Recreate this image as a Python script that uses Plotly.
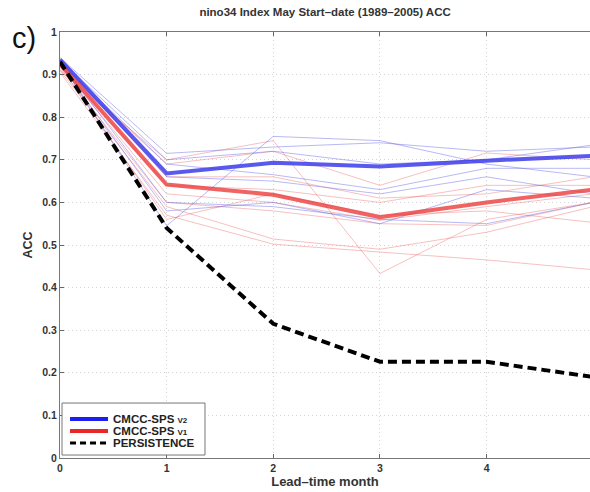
import plotly.graph_objects as go

lead = [0, 1, 2, 3, 4, 5]

v2_mean = [0.935, 0.668, 0.693, 0.684, 0.698, 0.709]
v1_mean = [0.925, 0.642, 0.618, 0.565, 0.600, 0.630]
persistence = [0.93, 0.54, 0.315, 0.226, 0.226, 0.19]

v2_members = [
    [0.94, 0.715, 0.730, 0.740, 0.720, 0.730],
    [0.935, 0.700, 0.720, 0.690, 0.700, 0.735],
    [0.93, 0.690, 0.665, 0.630, 0.680, 0.680],
    [0.93, 0.545, 0.755, 0.745, 0.690, 0.660],
    [0.925, 0.580, 0.600, 0.550, 0.630, 0.610],
    [0.93, 0.600, 0.590, 0.560, 0.550, 0.600],
    [0.935, 0.660, 0.650, 0.620, 0.660, 0.620],
]
v1_members = [
    [0.91, 0.700, 0.745, 0.433, 0.560, 0.600],
    [0.92, 0.690, 0.720, 0.640, 0.716, 0.700],
    [0.93, 0.660, 0.660, 0.610, 0.620, 0.660],
    [0.92, 0.620, 0.600, 0.558, 0.590, 0.620],
    [0.915, 0.600, 0.580, 0.550, 0.546, 0.600],
    [0.91, 0.590, 0.514, 0.490, 0.530, 0.590],
    [0.905, 0.570, 0.502, 0.484, 0.465, 0.442],
    [0.92, 0.560, 0.620, 0.570, 0.580, 0.553],
    [0.925, 0.640, 0.630, 0.600, 0.640, 0.640],
]

x_ticks = [0, 1, 2, 3, 4, 5]
y_ticks = [0, 0.1, 0.2, 0.3, 0.4, 0.5, 0.6, 0.7, 0.8, 0.9, 1]
y_tick_text = ["0", "0.1", "0.2", "0.3", "0.4", "0.5", "0.6", "0.7", "0.8", "0.9", "1"]

legend_labels = ["CMCC-SPS <span style='font-size:8px'>V2</span>",
                 "CMCC-SPS <span style='font-size:8px'>V1</span>",
                 "PERSISTENCE"]

FONT = "Liberation Sans, Arial, sans-serif"
BLUE_THICK = "rgba(60,60,235,0.85)"
RED_THICK = "rgba(235,60,60,0.80)"

fig = go.Figure()

for m in v1_members:
    fig.add_trace(go.Scatter(x=lead, y=m, mode="lines", showlegend=False, hoverinfo="skip",
                             line=dict(color="rgba(235,90,90,0.38)", width=1)))
for m in v2_members:
    fig.add_trace(go.Scatter(x=lead, y=m, mode="lines", showlegend=False, hoverinfo="skip",
                             line=dict(color="rgba(80,80,230,0.40)", width=1)))

fig.add_trace(go.Scatter(x=lead, y=v2_mean, mode="lines", name=legend_labels[0], showlegend=False,
                         line=dict(color=BLUE_THICK, width=4)))
fig.add_trace(go.Scatter(x=lead, y=v1_mean, mode="lines", name=legend_labels[1], showlegend=False,
                         line=dict(color=RED_THICK, width=4)))
fig.add_trace(go.Scatter(x=lead, y=persistence, mode="lines", name=legend_labels[2], showlegend=False,
                         line=dict(color="black", width=4, dash="9px,5px")))

# custom compact legend (paper coordinates)
shapes = [dict(type="rect", xref="paper", yref="paper", x0=0.0038, x1=0.2736, y0=0.007, y1=0.129,
               fillcolor="white", line=dict(color="#777777", width=1), layer="above")]
legend_y = [0.0915, 0.0634, 0.0352]
legend_styles = [dict(color="rgb(30,30,240)", width=4),
                 dict(color="rgb(230,40,40)", width=4),
                 dict(color="black", width=3, dash="6px,4px")]
annotations = []
for ly, st, lab in zip(legend_y, legend_styles, legend_labels):
    shapes.append(dict(type="line", xref="paper", yref="paper", x0=0.0189, x1=0.0906,
                       y0=ly, y1=ly, line=st, layer="above"))
    annotations.append(dict(text="<b>%s</b>" % lab, xref="paper", yref="paper", x=0.096, y=ly,
                            xanchor="left", yanchor="middle", showarrow=False,
                            font=dict(size=11.5, color="#222222", family=FONT)))

annotations.append(dict(text="c)", xref="paper", yref="paper", x=-0.094, y=0.986,
                        xanchor="left", yanchor="middle", showarrow=False,
                        font=dict(size=29, color="#111111", family=FONT)))

tickfont = dict(family=FONT, size=10.5, color="#333333")

fig.update_layout(
    width=590, height=492,
    margin=dict(l=60, r=0, t=32, b=34),
    paper_bgcolor="white", plot_bgcolor="white",
    font=dict(family=FONT),
    title=dict(text="<b>nino34 Index May Start\u2013date (1989\u20132005) ACC</b>",
               x=0.551, xanchor="center", y=0.975, yanchor="middle",
               font=dict(size=11.5, color="#333333")),
    showlegend=False,
    xaxis=dict(range=[0, 4.97], tickvals=x_ticks, ticktext=["<b>%d</b>" % t for t in x_ticks],
               tickfont=tickfont, ticks="inside", ticklen=4, tickcolor="#666666",
               showline=True, linecolor="#777777", linewidth=1, mirror="ticks",
               showgrid=True, gridcolor="#d4d4d4", griddash="1px,3px", gridwidth=1,
               zeroline=False,
               title=dict(text="<b>Lead\u2013time month</b>", standoff=3,
                          font=dict(size=13, color="#333333"))),
    yaxis=dict(range=[0, 1], tickvals=y_ticks, ticktext=["<b>%s</b>" % t for t in y_tick_text],
               tickfont=tickfont, ticks="inside", ticklen=4, tickcolor="#666666",
               showline=True, linecolor="#777777", linewidth=1, mirror=False,
               showgrid=True, gridcolor="#d4d4d4", griddash="1px,3px", gridwidth=1,
               zeroline=False,
               title=dict(text="<b>ACC</b>", standoff=6,
                          font=dict(size=12.5, color="#333333"))),
    shapes=shapes,
    annotations=annotations,
)

fig.write_html("out.html")
